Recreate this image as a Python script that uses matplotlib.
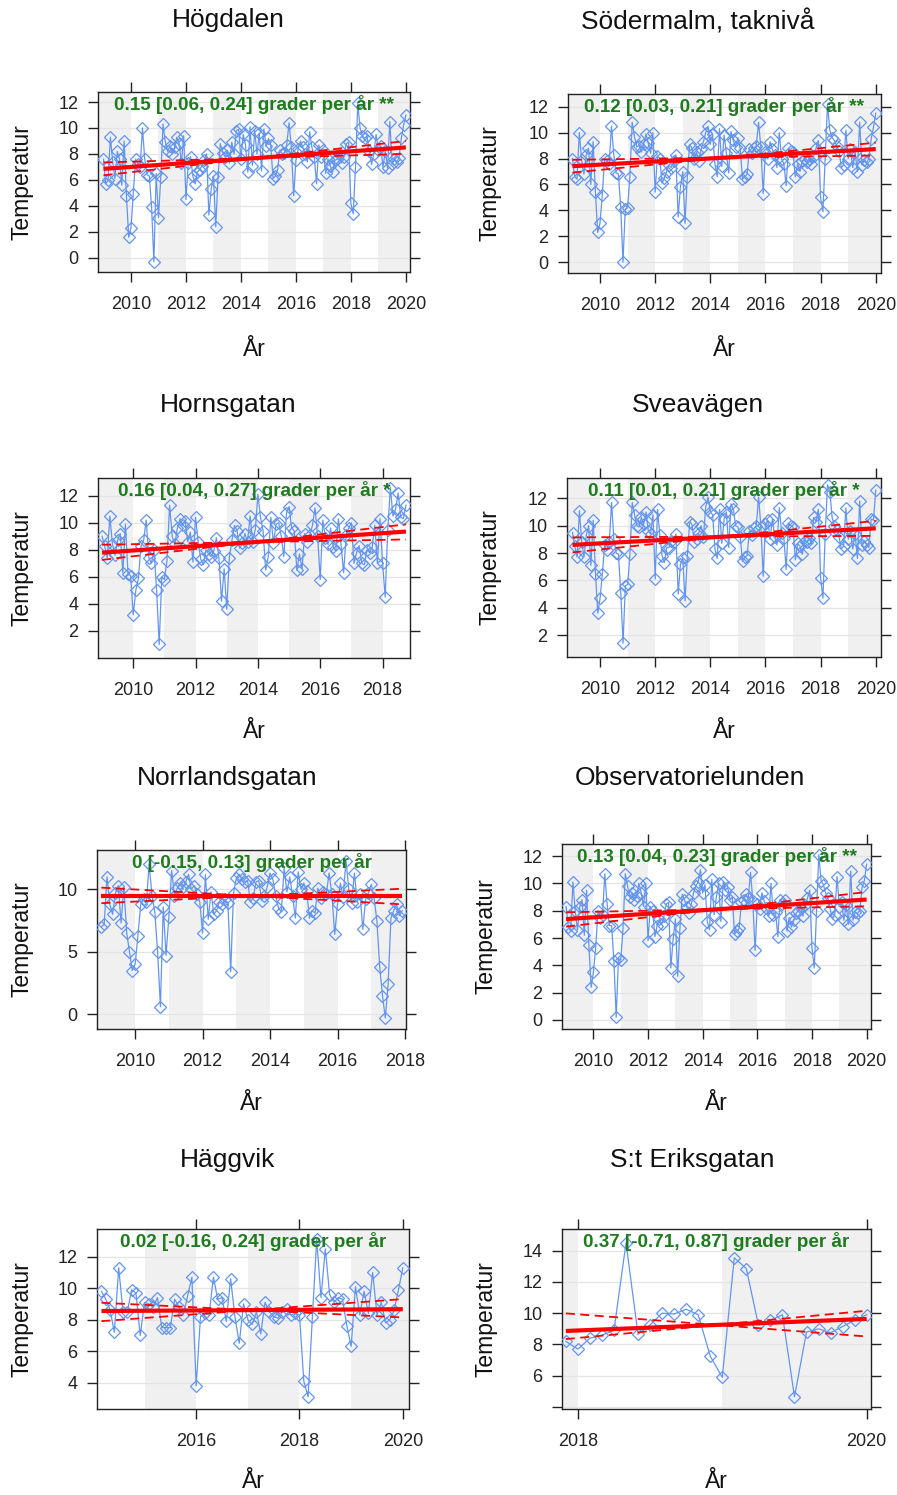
import matplotlib
matplotlib.use("Agg")
import matplotlib.pyplot as plt
import numpy as np

plt.rcParams['font.family'] = ['Liberation Sans', 'DejaVu Sans']

# ---------------- data ----------------
names = ["Högdalen", "Södermalm, taknivå", "Hornsgatan", "Sveavägen",
         "Norrlandsgatan", "Observatorielunden", "Häggvik", "S:t Eriksgatan"]

# first month of each series (year, month)
starts = [(2009, 1), (2009, 1), (2009, 1), (2009, 1),
          (2009, 1), (2009, 1), (2014, 3), (2017, 12)]

hogdalen = [
    7.6, 5.7, 6.0, 9.3, 7.4, 6.1, 8.2, 7.6, 5.6, 9.0, 4.8, 1.6,
    2.3, 4.9, 7.6, 7.2, 7.0, 10.0, 7.6, 6.4, 6.3, 3.9, -0.3, 6.5,
    3.1, 6.2, 10.3, 8.9, 8.2, 8.6, 8.0, 8.5, 9.3, 8.8, 7.3, 9.4,
    4.5, 7.3, 7.8, 6.3, 5.7, 6.6, 6.8, 7.1, 7.5, 8.0, 3.3, 5.3,
    6.3, 2.4, 6.2, 8.8, 8.1, 7.8, 8.3, 7.3, 8.9, 8.0, 9.8, 9.9,
    7.6, 9.5, 8.7, 6.6, 10.1, 7.1, 9.8, 8.0, 9.6, 6.7, 9.9, 8.6,
    9.2, 8.7, 6.1, 6.3, 6.8, 8.3, 8.0, 8.1, 8.7, 10.4, 8.5, 4.8,
    7.5, 8.4, 9.0, 8.5, 8.0, 7.4, 9.7, 8.5, 7.8, 5.7, 8.7, 7.8,
    8.3, 6.5, 7.6, 7.1, 6.6, 7.5, 7.6, 8.0, 7.3, 7.8, 8.8, 8.9,
    4.2, 3.4, 7.0, 11.9, 10.0, 9.4, 9.2, 9.4, 8.2, 7.2, 8.0, 9.5,
    8.3, 8.6, 7.0, 8.2, 6.9, 10.5, 7.2, 7.6, 7.4, 7.7, 9.2, 10.2,
    11.0]

sodermalm = [
    8.0, 6.6, 6.4, 10.0, 7.9, 6.8, 8.3, 8.8, 6.0, 9.3, 5.4, 2.3,
    3.0, 5.2, 8.0, 7.8, 7.6, 10.5, 8.3, 6.9, 6.8, 4.3, 0.0, 4.1,
    4.2, 6.6, 10.8, 9.7, 8.9, 9.0, 8.5, 9.1, 9.9, 9.2, 8.4, 10.0,
    5.4, 8.2, 8.0, 6.1, 6.5, 7.0, 7.5, 7.3, 7.8, 8.3, 3.5, 5.8,
    7.0, 3.0, 6.6, 9.1, 8.8, 8.0, 8.5, 7.8, 8.7, 9.3, 10.0, 10.5,
    9.1, 9.9, 7.6, 6.6, 10.3, 7.4, 9.8, 8.4, 6.9, 10.1, 9.4, 8.9,
    9.6, 8.8, 6.4, 6.6, 6.8, 8.7, 8.4, 8.8, 9.0, 10.8, 8.9, 5.3,
    8.5, 8.0, 9.3, 8.7, 8.3, 7.3, 10.0, 8.0, 7.6, 5.9, 8.8, 8.6,
    8.5, 6.6, 7.6, 7.0, 7.8, 8.0, 7.7, 8.0, 7.6, 8.2, 8.8, 9.4,
    5.0, 3.9, 8.0, 12.2, 10.2, 9.6, 9.4, 9.0, 8.6, 7.3, 7.5, 10.2,
    8.0, 8.7, 7.3, 8.5, 7.0, 10.8, 7.5, 7.9, 7.7, 8.0, 9.5, 10.4,
    11.5]

hornsgatan = [
    9.0, 8.3, 7.4, 10.5, 8.4, 7.6, 8.7, 9.2, 6.3, 9.9, 6.2, 6.1,
    3.2, 5.0, 5.9, 8.3, 8.7, 10.2, 7.4, 7.0, 8.0, 5.0, 1.0, 6.0,
    5.8, 7.2, 11.3, 9.0, 8.4, 9.6, 10.3, 9.8, 10.1, 8.6, 9.3, 7.1,
    10.4, 8.6, 7.3, 6.9, 8.0, 7.7, 7.5, 7.9, 8.9, 7.4, 4.2, 6.6,
    3.6, 7.4, 8.7, 9.8, 9.4, 8.1, 8.5, 9.2, 8.6, 10.5, 8.6, 9.5,
    12.1, 10.4, 9.4, 6.5, 7.5, 10.4, 8.5, 9.9, 10.0, 9.0, 7.5, 10.7,
    11.2, 9.6, 9.4, 6.5, 7.7, 6.6, 9.2, 8.6, 9.1, 9.8, 11.1, 9.0,
    5.8, 10.2, 8.9, 8.4, 9.6, 8.2, 7.9, 10.3, 8.4, 6.3, 9.1, 9.6,
    10.0, 7.0, 7.8, 8.3, 7.0, 6.9, 8.0, 7.8, 8.2, 9.8, 7.0, 10.3,
    7.0, 4.5, 9.5, 12.6, 10.5, 11.0, 12.2, 10.4, 10.3, 11.3]

sveavagen = [
    9.5, 8.5, 7.7, 11.1, 8.8, 7.7, 9.3, 10.0, 7.1, 10.4, 6.5, 3.6,
    4.7, 6.5, 8.6, 8.2, 8.8, 11.7, 9.0, 8.0, 7.9, 5.1, 1.4, 5.6,
    5.7, 7.9, 11.7, 10.8, 10.0, 9.9, 10.6, 10.1, 11.0, 9.6, 9.4, 10.8,
    6.1, 11.2, 9.3, 7.8, 7.3, 8.4, 8.4, 8.9, 8.8, 9.4, 5.0, 7.2,
    7.6, 4.5, 7.8, 10.3, 10.1, 8.8, 9.0, 9.5, 10.0, 9.2, 11.4, 12.1,
    11.0, 10.8, 8.3, 7.6, 11.2, 8.7, 10.5, 11.0, 8.4, 11.6, 11.2, 10.0,
    9.9, 9.2, 7.4, 7.7, 7.8, 9.6, 9.3, 9.8, 10.0, 12.1, 9.9, 6.3,
    10.1, 10.4, 9.0, 10.5, 9.2, 8.6, 11.3, 9.5, 9.1, 6.8, 10.2, 10.0,
    9.9, 7.5, 8.7, 8.5, 7.9, 8.9, 8.8, 9.1, 8.7, 10.6, 10.3, 11.2,
    6.2, 4.7, 9.4, 13.0, 12.5, 10.6, 10.0, 9.7, 9.2, 8.3, 8.5, 11.3,
    9.0, 9.6, 8.3, 9.4, 7.6, 11.8, 8.6, 8.9, 8.6, 8.4, 10.5, 10.4,
    12.6]

norrlandsgatan = [
    7.0, 7.2, 11.0, 8.8, 8.0, 9.7, 10.3, 7.3, 10.2, 6.5, 5.0, 3.5,
    4.0, 6.3, 8.8, 9.2, 9.0, 12.0, 9.5, 8.2, 5.0, 0.6, 8.6, 4.7,
    7.8, 11.5, 9.5, 10.1, 10.5, 10.2, 10.6, 11.2, 10.0, 10.3, 9.6, 9.0,
    6.5, 11.2, 7.6, 9.8, 8.0, 8.3, 9.0, 8.8, 9.2, 8.9, 3.4, 9.7,
    10.9, 11.2, 10.8, 10.6, 10.7, 9.0, 9.3, 10.6, 10.7, 9.1, 9.5, 10.2,
    11.3, 10.8, 9.5, 8.5, 8.2, 11.7, 9.8, 11.0, 9.5, 7.7, 11.4, 10.0,
    10.5, 9.9, 7.7, 8.3, 8.1, 10.1, 9.3, 9.8, 9.6, 11.3, 9.6, 6.4,
    8.8, 10.5, 9.4, 12.3, 10.0, 8.9, 11.3, 9.0, 9.6, 6.8, 9.2, 9.7,
    10.4, 9.3, 7.5, 3.8, 1.5, -0.3, 2.4, 7.7, 8.3, 8.8, 7.9, 8.3]

observatorielunden = [
    8.3, 6.8, 6.5, 10.1, 8.0, 6.6, 8.3, 8.8, 6.2, 9.5, 5.5, 2.4,
    3.5, 5.3, 8.0, 7.5, 7.7, 10.7, 8.5, 6.9, 6.9, 4.3, 0.2, 4.5,
    4.4, 6.7, 10.7, 9.8, 9.0, 9.3, 8.8, 9.1, 10.0, 9.3, 8.3, 10.0,
    5.8, 8.3, 8.0, 6.1, 6.9, 7.4, 7.0, 7.6, 8.5, 8.6, 3.8, 5.9,
    7.4, 3.2, 6.7, 9.2, 8.8, 8.3, 7.8, 8.5, 9.3, 9.8, 10.1, 11.0,
    9.3, 9.9, 7.2, 6.6, 10.3, 7.7, 9.0, 10.0, 7.2, 10.1, 9.5, 9.7,
    8.8, 9.0, 6.3, 6.5, 6.7, 8.6, 8.8, 9.2, 8.9, 10.8, 8.7, 5.1,
    8.5, 8.1, 9.3, 8.7, 8.2, 7.6, 10.0, 7.7, 7.9, 6.1, 8.8, 8.5,
    8.8, 6.5, 7.5, 6.8, 7.3, 7.8, 8.0, 8.2, 7.6, 8.4, 8.9, 9.5,
    5.3, 3.8, 8.0, 12.1, 10.2, 9.9, 9.3, 8.9, 8.1, 7.4, 7.7, 10.5,
    8.3, 8.6, 7.3, 8.4, 7.0, 10.9, 7.3, 7.9, 7.8, 8.0, 9.7, 10.2,
    11.4]

haggvik = [
    9.8, 9.3, 8.6, 7.2, 11.3, 8.5, 8.5, 9.9, 9.7, 7.0,
    9.1, 9.0, 8.8, 9.4, 7.5, 7.5, 7.5, 9.3, 8.8, 8.3, 9.5, 10.7,
    3.8, 8.2, 8.4, 8.3, 10.7, 9.3, 9.4, 7.9, 10.6, 8.2, 6.5, 9.0,
    8.0, 7.7, 8.5, 7.1, 9.1, 8.5, 8.2, 8.1, 8.5, 8.7, 8.3, 8.4,
    8.3, 4.1, 3.1, 8.2, 13.1, 9.4, 12.5, 9.6, 9.1, 9.4, 9.3, 7.6,
    6.3, 10.1, 8.3, 9.8, 8.4, 11.0, 8.3, 9.1, 7.8, 8.0, 8.6, 9.9,
    11.3]

st_eriksgatan = [
    8.2,
    7.7, 8.4, 8.6, 8.9, 14.5, 8.65, 9.25, 10.0, 9.95, 10.25, 9.9, 7.25,
    5.9, 13.55, 12.85, 9.25, 9.55, 9.9, 4.65, 8.8, 9.0, 8.75, 9.15, 9.55,
    9.9]

series = [hogdalen, sodermalm, hornsgatan, sveavagen,
          norrlandsgatan, observatorielunden, haggvik, st_eriksgatan]

# Theil-Sen slope, lower/upper CI of slope (per year), trend value at mid-period, significance
slopes = [0.15, 0.12, 0.16, 0.11, 0.0, 0.13, 0.02, 0.37]
lower = [0.06, 0.03, 0.04, 0.01, -0.15, 0.04, -0.16, -0.71]
upper = [0.24, 0.21, 0.27, 0.21, 0.13, 0.23, 0.24, 0.87]
mid_level = [7.68, 8.07, 8.57, 9.2, 9.47, 8.1, 8.61, 9.25]
stars = ["**", "**", "*", "*", "", "**", "", ""]

# ---------------- layout (pixels) ----------------
W, H = 897, 1495
boxes = [(98, 410, 92, 272), (568, 881, 94, 273),
         (98, 410, 478, 658), (567, 881, 478, 657),
         (97, 406, 850, 1029), (562, 871, 844, 1029),
         (97, 409, 1229, 1409), (562, 871, 1229, 1409)]
xlims = [(2008.8, 2020.15), (2008.84, 2020.19), (2008.87, 2018.88), (2008.8, 2020.19),
         (2008.87, 2018.03), (2008.85, 2020.16), (2014.08, 2020.12), (2017.89, 2020.03)]
ylims = [(-1.08, 12.77), (-0.83, 12.98), (0.0, 13.31), (0.39, 13.49),
         (-1.18, 13.15), (-0.66, 12.88), (2.33, 13.76), (3.87, 15.39)]
xticks = [[2010, 2012, 2014, 2016, 2018, 2020]] * 2 + \
         [[2010, 2012, 2014, 2016, 2018], [2010, 2012, 2014, 2016, 2018, 2020],
          [2010, 2012, 2014, 2016, 2018], [2010, 2012, 2014, 2016, 2018, 2020],
          [2016, 2018, 2020], [2018, 2020]]
yticks = [list(range(0, 13, 2)), list(range(0, 13, 2)), list(range(2, 13, 2)),
          list(range(2, 13, 2)), [0, 5, 10], list(range(0, 13, 2)),
          list(range(4, 13, 2)), list(range(4, 15, 2))]
ytick_hidden = [[], [], [], [], [], [], [], [4]]
title_pos = [(228, 20), (698, 22), (228, 405), (698, 405),
             (227, 778), (690, 778), (228, 1160), (692, 1160)]
ylab_x = [22, 490, 22, 490, 22, 486, 22, 486]
xlab_y = [349, 349, 732, 732, 1104, 1104, 1482, 1482]

fig = plt.figure(figsize=(W / 100, H / 100), dpi=100)
fig.patch.set_facecolor("white")

line_col = "#6495ED"
band_col = "#F0F0F0"
grid_col = "#E4E4E4"
txt_col = "#1E7B1E"


def fmt(v):
    return "{:g}".format(v)


for i in range(8):
    L, R, T, B = boxes[i]
    ax = fig.add_axes([L / W, 1 - B / H, (R - L) / W, (B - T) / H])
    ax.set_xlim(*xlims[i])
    ax.set_ylim(*ylims[i])

    y0, m0 = starts[i]
    vals = np.array(series[i], dtype=float)
    t = y0 + (m0 - 1) / 12.0 + np.arange(len(vals)) / 12.0

    # alternate-year shading
    x0, x1 = xlims[i]
    for yr in range(int(np.floor(x0)) - 1, int(np.ceil(x1)) + 1):
        if yr % 2 == 1:
            a, b = yr, yr + 1
            if a <= t[0]:
                a = x0
            if b >= t[-1]:
                b = x1
            a, b = max(a, x0), min(b, x1)
            if b > a:
                ax.axvspan(a, b, color=band_col, lw=0, zorder=0)

    for yv in yticks[i]:
        ax.axhline(yv, color=grid_col, lw=0.9, zorder=1)

    ax.plot(t, vals, color=line_col, lw=0.9, marker="D", ms=6.4, mfc="none",
            mec=line_col, mew=0.9, zorder=3)

    # trend lines
    tc = 0.5 * (t[0] + t[-1])
    tt = np.array([t[0], t[-1]])
    ax.plot(tt, mid_level[i] + slopes[i] * (tt - tc), color="red", lw=3.0,
            solid_capstyle="butt", zorder=4)
    for s in (lower[i], upper[i]):
        ax.plot(tt, mid_level[i] + s * (tt - tc), color="red", lw=1.3,
                ls=(0, (5, 3)), zorder=4)

    label = "{} [{}, {}] grader per år {}".format(
        fmt(slopes[i]), fmt(lower[i]), fmt(upper[i]), stars[i]).rstrip()
    ax.text(0.5, 0.985, label, transform=ax.transAxes, ha="center", va="top",
            fontsize=13.6, fontweight="bold", color=txt_col, zorder=6)

    ax.set_xticks(xticks[i])
    ax.set_xticklabels([str(v) for v in xticks[i]])
    ax.set_yticks(yticks[i])
    ax.set_yticklabels(["" if v in ytick_hidden[i] else str(v) for v in yticks[i]])
    ax.tick_params(axis="both", direction="out", length=7, width=1.0,
                   colors="#222222", labelsize=13, top=True, right=True,
                   labeltop=False, labelright=False)
    ax.tick_params(axis="x", pad=10)
    ax.tick_params(axis="y", pad=7)
    for sp in ax.spines.values():
        sp.set_linewidth(1.0)
        sp.set_color("#222222")

    tx, ty = title_pos[i]
    fig.text(tx / W, 1 - ty / H, names[i], ha="center", va="center",
             fontsize=19, color="#111111")
    fig.text(ylab_x[i] / W, 1 - (0.5 * (T + B)) / H, "Temperatur", rotation=90,
             ha="center", va="center", fontsize=16.5, color="#111111")
    fig.text(0.5 * (L + R) / W, 1 - xlab_y[i] / H, "År", ha="center",
             va="center", fontsize=16.5, color="#111111")

fig.savefig("out.png", dpi=100)
